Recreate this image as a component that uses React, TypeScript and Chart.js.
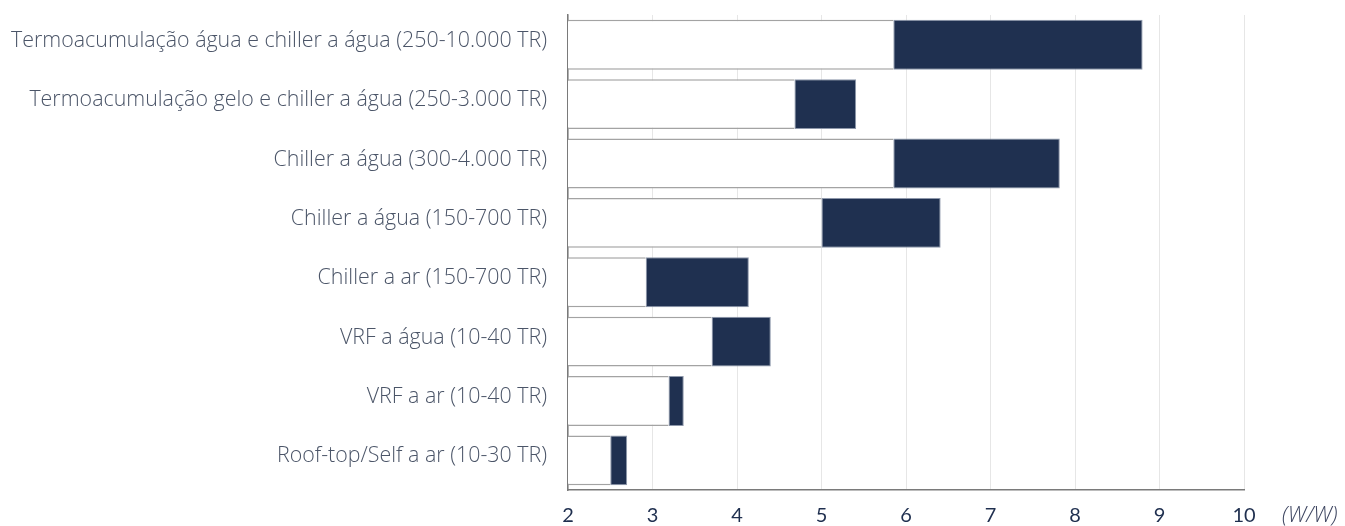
import React, { useEffect, useRef } from "react";
import { Chart, registerables } from "chart.js";

Chart.register(...registerables);

const categories = [
  "Termoacumulação água e chiller a água (250-10.000 TR)",
  "Termoacumulação gelo e chiller a água (250-3.000 TR)",
  "Chiller a água (300-4.000 TR)",
  "Chiller a água (150-700 TR)",
  "Chiller a ar (150-700 TR)",
  "VRF a água (10-40 TR)",
  "VRF a ar (10-40 TR)",
  "Roof-top/Self a ar (10-30 TR)",
];

const axisMin = 2;
const minValues = [5.85, 4.68, 5.85, 5.0, 2.92, 3.7, 3.19, 2.5];
const maxValues = [8.8, 5.41, 7.82, 6.41, 4.14, 4.4, 3.37, 2.7];
const xTicks = [2, 3, 4, 5, 6, 7, 8, 9, 10];
const unitLabel = "(W/W)";

const unitPlugin = {
  id: "unitLabel",
  afterDraw(chart: any) {
    const ctx = chart.ctx;
    const x = chart.scales.x;
    ctx.save();
    ctx.font = "italic 300 22px 'Open Sans', Lato, sans-serif";
    ctx.fillStyle = "#3d4560";
    ctx.textAlign = "left";
    ctx.textBaseline = "middle";
    ctx.fillText(unitLabel, x.right + 38, x.top + 25.5);
    ctx.restore();
  },
};

export default function App() {
  const ref = useRef<HTMLCanvasElement | null>(null);

  useEffect(() => {
    document.body.style.margin = "0";
    const canvas = ref.current;
    if (!canvas) return;
    const chart = new Chart(canvas, {
      type: "bar",
      data: {
        labels: categories,
        datasets: [
          {
            label: "min",
            data: minValues.map((v) => [axisMin, v]) as any,
            backgroundColor: "#ffffff",
            borderColor: "#a3a3a3",
            borderWidth: { top: 1.5, bottom: 1.5, left: 0, right: 0 },
            borderSkipped: false,
            grouped: false,
            barPercentage: 0.84,
            categoryPercentage: 1,
            order: 2,
          },
          {
            label: "max",
            data: minValues.map((v, i) => [v, maxValues[i]]) as any,
            backgroundColor: "#1f3050",
            borderColor: "#8d97aa",
            borderWidth: 1,
            borderSkipped: false,
            grouped: false,
            barPercentage: 0.84,
            categoryPercentage: 1,
            order: 1,
          },
        ],
      },
      options: {
        indexAxis: "y",
        animation: false,
        responsive: false,
        maintainAspectRatio: false,
        layout: { padding: { top: 15, right: 101, left: 0, bottom: 0 } },
        plugins: {
          legend: { display: false },
          tooltip: { enabled: false },
        },
        scales: {
          x: {
            type: "linear",
            min: 2,
            max: 10,
            afterBuildTicks: (scale: any) => {
              scale.ticks = xTicks.map((v) => ({ value: v }));
            },
            afterFit: (scale: any) => {
              scale.height = 36;
              scale.paddingLeft = 0;
              scale.paddingRight = 0;
            },
            grid: { color: "#e6e6e6", lineWidth: 1, drawTicks: false },
            border: { display: true, color: "#7a7a7a", width: 1.5 },
            ticks: {
              padding: 14,
              color: "#1f2f4f",
              font: { family: "Lato, 'Open Sans', sans-serif", size: 20, weight: "normal" },
            },
          },
          y: {
            afterFit: (scale: any) => {
              scale.width = 568;
              scale.paddingTop = 0;
              scale.paddingBottom = 0;
            },
            grid: { display: false, drawTicks: false },
            border: { display: true, color: "#7a7a7a", width: 1.5 },
            ticks: {
              padding: 21,
              color: "#4b5568",
              callback: function (this: any, value: any) {
                return [this.getLabelForValue(value), ""];
              },
              font: { family: "'Open Sans', Lato, sans-serif", size: 21.4, weight: 300, lineHeight: "8px" },
            },
          },
        },
      },
      plugins: [unitPlugin],
    });
    return () => chart.destroy();
  }, []);

  return (
    <div style={{ width: 1345, height: 526 }}>
      <canvas ref={ref} width={1345} height={526} style={{ width: 1345, height: 526, display: "block" }} />
    </div>
  );
}
